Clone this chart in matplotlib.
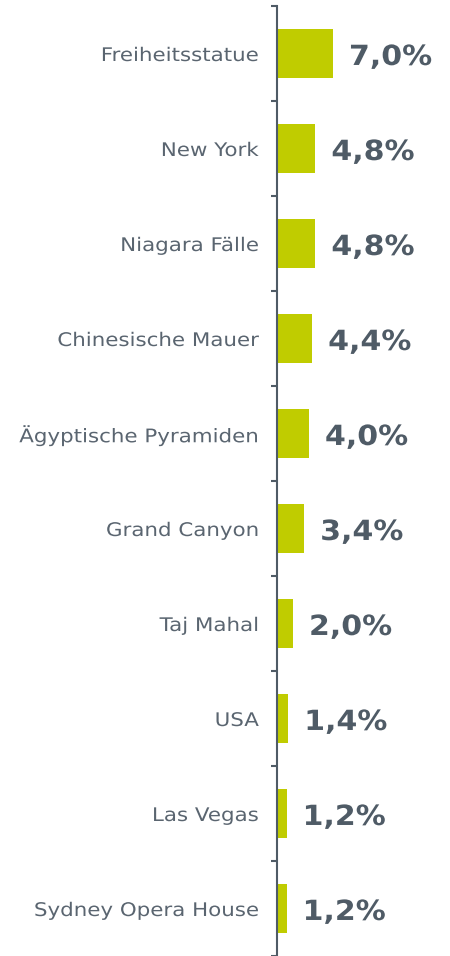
import matplotlib
matplotlib.use("Agg")
import matplotlib.pyplot as plt
from matplotlib.patheffects import AbstractPathEffect
from matplotlib.transforms import Affine2D
import numpy as np

categories = ["Freiheitsstatue", "New York", "Niagara Fälle", "Chinesische Mauer",
              "Ägyptische Pyramiden", "Grand Canyon", "Taj Mahal", "USA",
              "Las Vegas", "Sydney Opera House"]
values = [7.0, 4.8, 4.8, 4.4, 4.0, 3.4, 2.0, 1.4, 1.2, 1.2]
value_labels = ["7,0%", "4,8%", "4,8%", "4,4%", "4,0%", "3,4%", "2,0%", "1,4%", "1,2%", "1,2%"]

bar_color = "#C0CC00"
text_color = "#5A6570"
value_color = "#4F5B66"
axis_color = "#4F5B66"

plt.rcParams['font.family'] = ['DejaVu Sans']


class Stretch(AbstractPathEffect):
    """Horizontally widen text (Verdana-like wide spacing)."""
    def __init__(self, sx, anchor="left"):
        super().__init__()
        self.sx = sx
        self.anchor = anchor

    def draw_path(self, renderer, gc, tpath, affine, rgbFace=None):
        x0 = 0.0
        if self.anchor == "right" and len(tpath.vertices):
            x0 = tpath.vertices[:, 0].max()
        t = Affine2D().translate(-x0, 0).scale(self.sx, 1).translate(x0, 0) + affine
        renderer.draw_path(gc, tpath, t, rgbFace)


fig = plt.figure(figsize=(4.5, 9.56), dpi=100)
ax = fig.add_axes([277/450, 0.0, 1 - 277/450, 1 - 6/956])

n = len(categories)
y = np.arange(n)
ax.barh(y, values, height=0.52, color=bar_color)
ax.set_ylim(n - 0.5, -0.5)
ax.set_xlim(0, 173/8)

for yi, v, lab in zip(y, values, value_labels):
    ax.annotate(lab, (v, yi), xytext=(11.5, -2.5), textcoords="offset points",
                ha="left", va="center", fontsize=20, fontweight="bold", color=value_color,
                path_effects=[Stretch(1.08, "left")])

ax.set_yticks(y)
ax.set_yticklabels(categories, fontsize=13.5, color=text_color)
for t in ax.get_yticklabels():
    t.set_path_effects([Stretch(1.14, "right")])
ax.tick_params(axis="y", which="major", length=0, pad=13)
ax.set_yticks(np.arange(-0.5, n, 1.0), minor=True)
ax.tick_params(axis="y", which="minor", length=4, width=1.5, color=axis_color, direction="out")
ax.set_xticks([])

for s in ["top", "right", "bottom"]:
    ax.spines[s].set_visible(False)
ax.spines["left"].set_color(axis_color)
ax.spines["left"].set_linewidth(1.5)

fig.savefig("out.png", dpi=100)
